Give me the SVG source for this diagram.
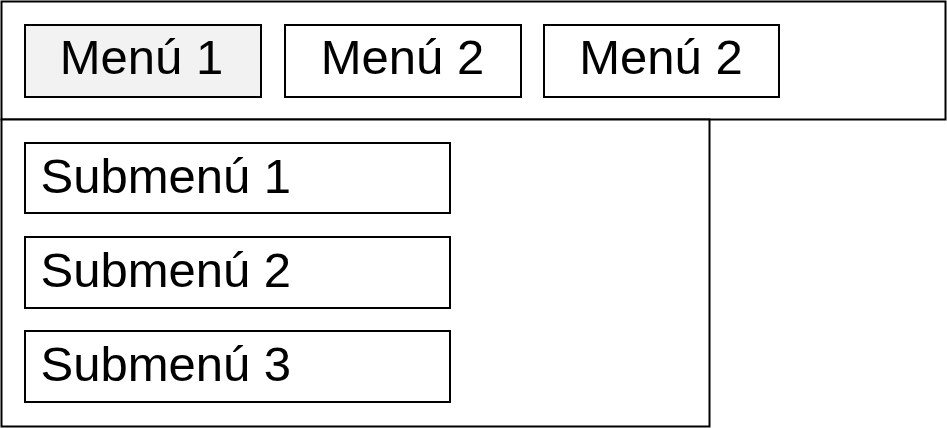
<svg xmlns="http://www.w3.org/2000/svg" width="947" height="428" viewBox="0 0 947 428">
<style>
.box{fill:#fff;stroke:#000;stroke-width:2}
.sel{fill:#f2f2f2;stroke:#000;stroke-width:2}
.t{font-family:"Liberation Sans",Arial,sans-serif;font-size:49px;fill:#000}
.m{text-anchor:middle}
</style>
<rect width="947" height="428" fill="#fff"/>
<g id="menubar"><rect class="box" x="1.5" y="1.5" width="944" height="118"/></g>
<g id="dropdown"><rect class="box" x="1.5" y="119.5" width="708" height="307"/></g>
<g id="menu1"><rect class="sel" x="25" y="25" width="236" height="72"/><text class="t m" x="141.5" y="74">Menú 1</text></g>
<g id="menu2"><rect class="box" x="285" y="25" width="236" height="72"/><text class="t m" x="402.5" y="74">Menú 2</text></g>
<g id="menu3"><rect class="box" x="544" y="25" width="235" height="72"/><text class="t m" x="661" y="74">Menú 2</text></g>
<g id="sub1"><rect class="box" x="25" y="143" width="425" height="70"/><text class="t" x="40.5" y="193">Submenú 1</text></g>
<g id="sub2"><rect class="box" x="25" y="237" width="425" height="71"/><text class="t" x="40.5" y="287">Submenú 2</text></g>
<g id="sub3"><rect class="box" x="25" y="331" width="425" height="71"/><text class="t" x="40.5" y="381">Submenú 3</text></g>
<g id="connectors"></g>
</svg>
